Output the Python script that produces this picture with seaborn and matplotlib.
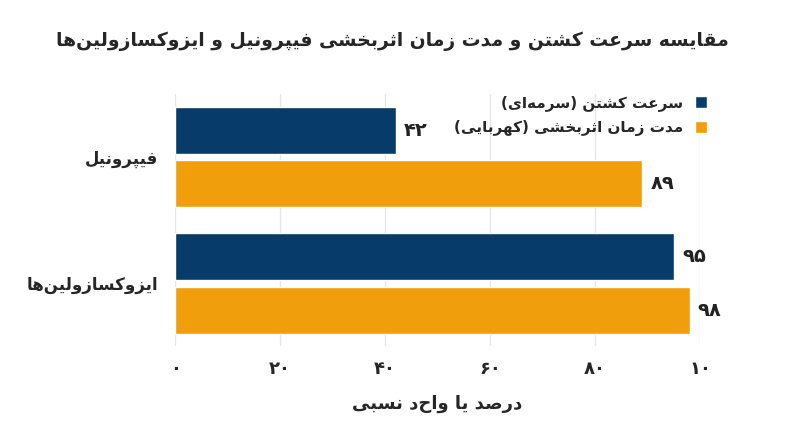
import matplotlib
matplotlib.use("Agg")
import matplotlib.pyplot as plt
import seaborn as sns
import pandas as pd

# ==================== DATA ====================
drugs = ["فیپرونیل", "ایزوکسازولین‌ها"]
series = ["سرعت کشتن (سرمه‌ای)", "مدت زمان اثربخشی (کهربایی)"]
kill_speed = [42, 95]
duration = [89, 98]
value_labels = {42: "۴۲", 89: "۸۹", 95: "۹۵", 98: "۹۸"}
xticks = [0, 20, 40, 60, 80, 100]
xtick_labels = ["۰", "۲۰", "۴۰", "۶۰", "۸۰", "۱۰"]
title = "مقایسه سرعت کشتن و مدت زمان اثربخشی فیپرونیل و ایزوکسازولین‌ها"
xlabel = "درصد یا واحد نسبی"
colors = ["#073b69", "#f09e0c"]

# ==================== minimal Persian shaping ====================
# isolated, final, initial, medial
FORMS = {
    "ا": (0xFE8D, 0xFE8E, None, None), "د": (0xFEA9, 0xFEAA, None, None),
    "ر": (0xFEAD, 0xFEAE, None, None), "ز": (0xFEAF, 0xFEB0, None, None),
    "و": (0xFEED, 0xFEEE, None, None),
    "ب": (0xFE8F, 0xFE90, 0xFE91, 0xFE92), "پ": (0xFB56, 0xFB57, 0xFB58, 0xFB59),
    "ت": (0xFE95, 0xFE96, 0xFE97, 0xFE98), "ث": (0xFE99, 0xFE9A, 0xFE9B, 0xFE9C),
    "خ": (0xFEA5, 0xFEA6, 0xFEA7, 0xFEA8), "س": (0xFEB1, 0xFEB2, 0xFEB3, 0xFEB4),
    "ش": (0xFEB5, 0xFEB6, 0xFEB7, 0xFEB8), "ص": (0xFEB9, 0xFEBA, 0xFEBB, 0xFEBC),
    "ع": (0xFEC9, 0xFECA, 0xFECB, 0xFECC), "ف": (0xFED1, 0xFED2, 0xFED3, 0xFED4),
    "ق": (0xFED5, 0xFED6, 0xFED7, 0xFED8), "ک": (0xFB8E, 0xFB8F, 0xFB90, 0xFB91),
    "ل": (0xFEDD, 0xFEDE, 0xFEDF, 0xFEE0), "م": (0xFEE1, 0xFEE2, 0xFEE3, 0xFEE4),
    "ن": (0xFEE5, 0xFEE6, 0xFEE7, 0xFEE8), "ه": (0xFEE9, 0xFEEA, 0xFEEB, 0xFEEC),
    "ی": (0xFBFC, 0xFBFD, 0xFBFE, 0xFBFF),
}


def shape(text):
    out = []
    for i, ch in enumerate(text):
        if ch == "\u200c":
            continue
        if ch not in FORMS:
            out.append(ch)
            continue
        prev = text[i - 1] if i > 0 else ""
        nxt = text[i + 1] if i + 1 < len(text) else ""
        joins_prev = prev in FORMS and FORMS[prev][2] is not None
        joins_next = FORMS[ch][2] is not None and nxt in FORMS
        iso, fin, ini, med = FORMS[ch]
        if joins_prev and joins_next:
            code = med
        elif joins_prev:
            code = fin
        elif joins_next:
            code = ini
        else:
            code = iso
        out.append(chr(code))
    s = "".join(out)[::-1]
    return s.translate(str.maketrans("()", ")("))


# ==================== PLOT ====================
df = pd.DataFrame({
    "drug": [shape(d) for d in drugs] * 2,
    "series": [shape(series[0])] * 2 + [shape(series[1])] * 2,
    "value": kill_speed + duration,
})

sns.set_theme(style="white")
plt.rcParams["font.family"] = ["DejaVu Sans", "Noto Sans"]

fig, ax = plt.subplots(figsize=(8, 4.47), dpi=100)
fig.subplots_adjust(left=0.219, right=0.875, top=0.79, bottom=0.225)

sns.barplot(data=df, y="drug", x="value", hue="series", palette=colors,
            saturation=1, orient="h", width=0.85, gap=0.12, ax=ax, zorder=3)

for cont in ax.containers:
    ax.bar_label(cont, labels=[value_labels[int(round(b.get_width()))] for b in cont],
                 padding=6, fontsize=14, fontweight="bold", color="#222222")

ax.set_xlim(0, 100)
ax.set_xticks(xticks)
ax.set_xticklabels(xtick_labels, fontsize=13, fontweight="bold")
ax.tick_params(axis="y", labelsize=12, length=0, pad=12)
ax.tick_params(axis="x", length=0, pad=10)
for lab in ax.get_yticklabels():
    lab.set_fontweight("bold")
ax.grid(axis="x", color="#e6e6e6", linewidth=1, zorder=0)
for sp in ax.spines.values():
    sp.set_visible(False)
ax.set_ylabel("")
ax.set_xlabel(shape(xlabel), fontsize=13, fontweight="bold", labelpad=12)
fig.suptitle(shape(title), x=0.49, y=0.93, fontsize=13.5, fontweight="bold")

leg = ax.legend(loc="upper right", bbox_to_anchor=(1.04, 1.05), frameon=False,
                markerfirst=False, fontsize=11, handlelength=0.8, handleheight=0.8,
                labelspacing=0.6)
for t in leg.get_texts():
    t.set_fontweight("bold")

fig.savefig("out.png", dpi=100)
